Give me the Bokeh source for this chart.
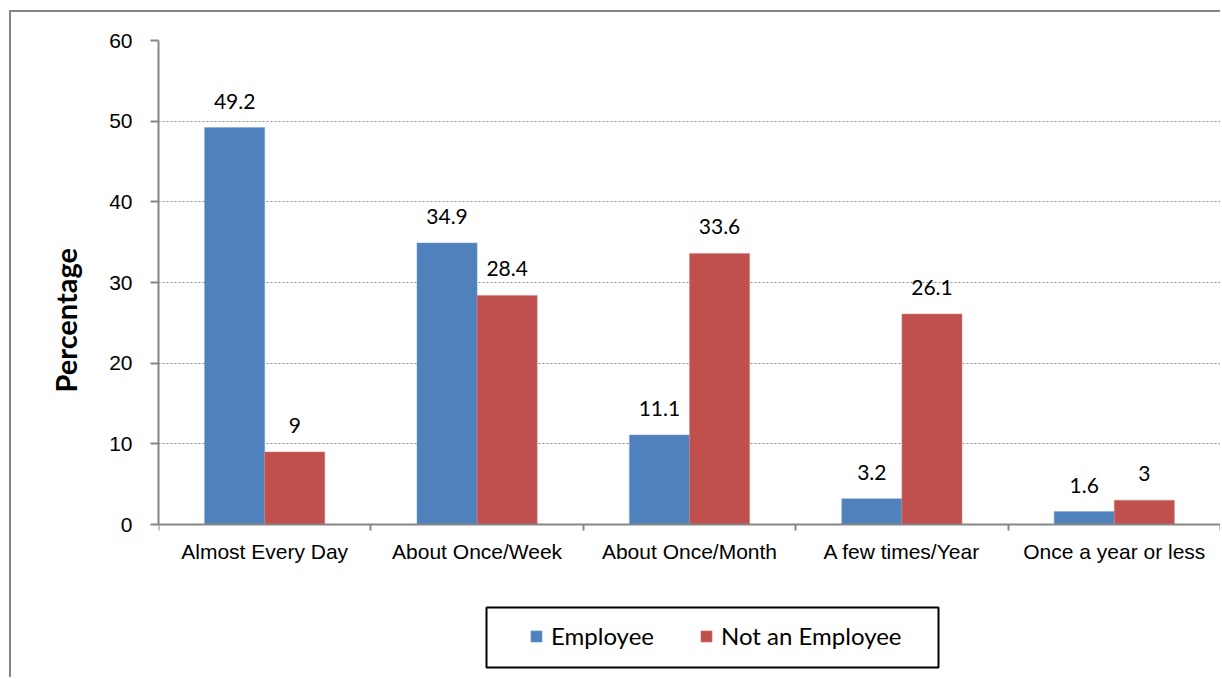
from bokeh.plotting import figure
from bokeh.models import (ColumnDataSource, FixedTicker, Legend, LegendItem,
                          LabelSet, Range1d, Title, BoxAnnotation)
from bokeh.core.properties import value
from bokeh.embed import file_html
from bokeh.resources import INLINE

categories = ["Almost Every Day", "About Once/Week", "About Once/Month",
              "A few times/Year", "Once a year or less"]
employee = [49.2, 34.9, 11.1, 3.2, 1.6]
not_employee = [9, 28.4, 33.6, 26.1, 3]
series_names = ["Employee", "Not an Employee"]
colors = ["#4F81BD", "#C0504D"]
y_ticks = [0, 10, 20, 30, 40, 50, 60]
y_title = "Percentage"

n = len(categories)
centers = [i + 0.5 for i in range(n)]
bw = 0.283

# frame spans canvas y 28..667 (639 px); value 60 at top, 0 sits 484 px lower
px_per_unit = 484 / 60
y_lo = 60 - 639 / px_per_unit

def fmt(v):
    return f"{v:g}"

src_e = ColumnDataSource(dict(x=[c - bw / 2 for c in centers], y=employee,
                              lbl=[fmt(v) for v in employee]))
src_n = ColumnDataSource(dict(x=[c + bw / 2 for c in centers], y=not_employee,
                              lbl=[fmt(v) for v in not_employee]))

p = figure(width=1211, height=667, output_backend="svg", toolbar_location=None,
           x_range=Range1d(0, n), y_range=Range1d(y_lo, 60),
           min_border_left=147, min_border_right=2, min_border_top=28,
           min_border_bottom=0)
p.styles = {"margin-left": "9px", "margin-top": "10px",
            "border-left": "2px solid #868686",
            "border-top": "2px solid #868686"}
p.outline_line_color = None
p.background_fill_color = "white"
p.border_fill_color = "white"

r1 = p.vbar(x="x", top="y", width=bw, source=src_e, fill_color=colors[0],
            line_color="#7BA0CD", line_width=0.5)
r2 = p.vbar(x="x", top="y", width=bw, source=src_n, fill_color=colors[1],
            line_color="#D08584", line_width=0.5)

for src in (src_e, src_n):
    p.add_layout(LabelSet(x="x", y="y", text="lbl", source=src,
                          text_align="center", text_baseline="bottom",
                          y_offset=19, text_font=value("Lato"),
                          text_font_size="21px", text_color="black"))

# x axis, pinned at value 0
xa = p.xaxis[0]
xa.fixed_location = 0
xa.ticker = FixedTicker(ticks=centers, minor_ticks=list(range(n + 1)))
xa.major_label_overrides = {c: cat for c, cat in zip(centers, categories)}
xa.major_tick_out = 0
xa.major_tick_in = 0
xa.minor_tick_out = 6
xa.minor_tick_in = 0
xa.minor_tick_line_color = "#868686"
xa.minor_tick_line_width = 2
xa.axis_line_color = "#868686"
xa.axis_line_width = 2
xa.major_label_text_font = "Liberation Sans"
xa.major_label_text_font_size = "21px"
xa.major_label_text_color = "black"
xa.major_label_standoff = 9

# y axis
ya = p.yaxis[0]
ya.ticker = FixedTicker(ticks=y_ticks)
ya.bounds = (y_ticks[0], y_ticks[-1])
ya.minor_tick_line_color = None
ya.major_tick_out = 8
ya.major_tick_in = 0
ya.major_tick_line_color = "#868686"
ya.major_tick_line_width = 2
ya.axis_line_color = "#868686"
ya.axis_line_width = 2
ya.major_label_text_font = "Liberation Sans"
ya.major_label_text_font_size = "21px"
ya.major_label_text_color = "black"
ya.major_label_standoff = 18

p.add_layout(Title(text=y_title, text_font="Lato", text_font_style="bold",
                   text_font_size="29px", text_color="black", align="left",
                   offset=287, standoff=48), "left")

p.xgrid.grid_line_color = None
p.ygrid.grid_line_color = "#8C8C8C"
p.ygrid.grid_line_dash = "2 2"
p.ygrid.grid_line_width = 1

# legend frame
p.add_layout(BoxAnnotation(left=328, right=780, bottom=12, top=72,
                           left_units="screen", right_units="screen",
                           top_units="screen", bottom_units="screen",
                           fill_alpha=0, line_color="black", line_alpha=1,
                           line_width=2))

legend = Legend(items=[LegendItem(label=series_names[0], renderers=[r1]),
                       LegendItem(label=series_names[1], renderers=[r2])],
                orientation="horizontal", location=(371, 29),
                border_line_alpha=0, background_fill_alpha=0,
                label_text_font="Lato", label_text_font_size="24px",
                label_text_color="black", glyph_width=14, glyph_height=14,
                label_height=26, label_width=148, label_standoff=8,
                spacing=0, padding=0, margin=0)
p.add_layout(legend, "center")

open("out.html", "w").write(file_html(p, INLINE))
